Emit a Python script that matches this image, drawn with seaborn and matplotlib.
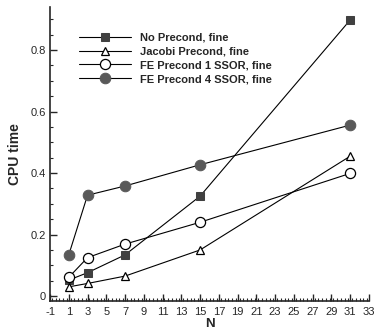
import matplotlib
matplotlib.use("Agg")
import matplotlib.pyplot as plt
import seaborn as sns
import pandas as pd
from matplotlib.ticker import MultipleLocator

N = [1, 3, 7, 15, 31]
no_precond = [0.052, 0.076, 0.134, 0.325, 0.898]
jacobi = [0.030, 0.041, 0.065, 0.150, 0.455]
fe1_ssor = [0.061, 0.125, 0.169, 0.240, 0.399]
fe4_ssor = [0.134, 0.328, 0.358, 0.427, 0.556]
labels = ["No Precond, fine", "Jacobi Precond, fine",
          "FE Precond 1 SSOR, fine", "FE Precond 4 SSOR, fine"]
x_ticks = list(range(-1, 34, 2))
y_ticks = [0, 0.2, 0.4, 0.6, 0.8]
y_tick_labels = ["0", "0.2", "0.4", "0.6", "0.8"]

rows = []
for lab, vals in zip(labels, [no_precond, jacobi, fe1_ssor, fe4_ssor]):
    for n, v in zip(N, vals):
        rows.append({"N": n, "CPU time": v, "series": lab})
df = pd.DataFrame(rows)

sns.set_style("ticks")
plt.rcParams['font.family'] = ['Liberation Sans', 'DejaVu Sans']

fig = plt.figure(figsize=(3.78, 3.29), dpi=100)
ax = fig.add_axes([50/378, 1-301/329, 319/378, 294/329])

styles = {
    labels[0]: dict(marker="s", markersize=5.2, markerfacecolor="#404040", markeredgecolor="#404040"),
    labels[1]: dict(marker="^", markersize=6.3, markerfacecolor="white", markeredgecolor="black", markeredgewidth=0.9),
    labels[2]: dict(marker="o", markersize=7.3, markerfacecolor="white", markeredgecolor="black", markeredgewidth=0.9),
    labels[3]: dict(marker="o", markersize=7.6, markerfacecolor="#595959", markeredgecolor="#595959"),
}
for lab in labels:
    sub = df[df["series"] == lab]
    sns.lineplot(data=sub, x="N", y="CPU time", ax=ax, color="black",
                 linewidth=0.8, label=lab, **styles[lab])

ax.set_xlim(-1, 33)
ax.set_ylim(-0.016, 0.94)
ax.set_xticks(x_ticks)
ax.set_xticklabels([str(t) for t in x_ticks])
ax.set_yticks(y_ticks)
ax.set_yticklabels(y_tick_labels)
ax.xaxis.set_minor_locator(MultipleLocator(0.4))
ax.yaxis.set_minor_locator(MultipleLocator(0.05))
ax.tick_params(which="major", direction="in", length=5, width=1, labelsize=8)
ax.tick_params(axis="x", which="major", pad=4)
ax.tick_params(axis="y", which="major", pad=3)
ax.tick_params(which="minor", direction="in", length=2.5, width=0.8)
for s in ["top", "right"]:
    ax.spines[s].set_visible(False)
for s in ["left", "bottom"]:
    ax.spines[s].set_linewidth(1.2)

ax.set_xlabel("N", fontsize=9.5, fontweight="bold", labelpad=1)
ax.set_ylabel("CPU time", fontsize=10, fontweight="bold", labelpad=6)

leg = ax.legend(loc="upper left", bbox_to_anchor=(0.072, 0.932), frameon=False,
                borderpad=0, handlelength=4.7, handletextpad=0.85, labelspacing=0.35,
                prop={"size": 8, "weight": "bold"})

fig.savefig("out.png", dpi=100)
